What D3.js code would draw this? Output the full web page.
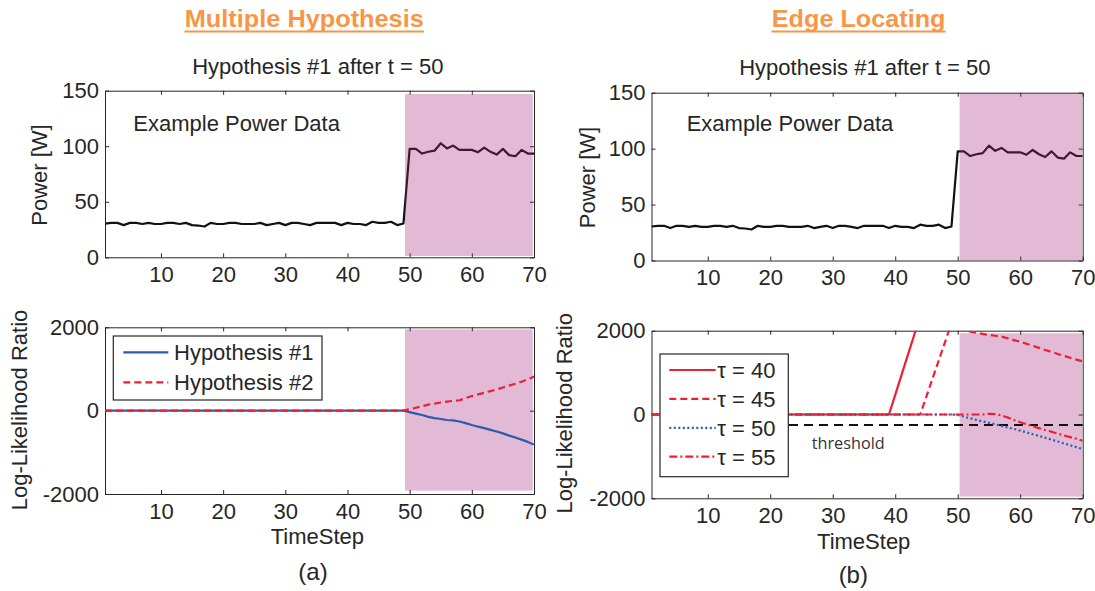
<!DOCTYPE html>
<html><head><meta charset="utf-8">
<script src="https://cdn.jsdelivr.net/npm/d3@7"></script>
<style>
body{margin:0;background:#fff}
svg{display:block}
text{font-family:"Liberation Sans",Arial,Helvetica,sans-serif;fill:#262626}
</style>
</head><body>
<svg id="c" width="1095" height="591"></svg>
<script>
// ---------------- DATA ----------------
const timeSteps = d3.range(1, 71); // t = 1 .. 70
const power = [30.4,31,31,29,31,31,30,31,30,30,31,31,30,31,29,28.6,27.7,31,30,30,
               31,31,30,30,30,31,29,30,31,29,31,31,30,29,31,31,31,31,29,31,
               30,30,29,32,31,31,32,29,30.4,97.6,97.6,93.4,95,96,102.7,98,100.6,96.7,96.7,96.7,
               94.6,98.8,95,92.5,97.6,92,91,96.7,93.4,93.4];
const zeros49 = new Array(49).fill(0);
const hyp1 = zeros49.concat([-35,-70,-105,-150,-180,-200,-225,-235,-260,-300,-345,-385,-420,-460,-500,-545,-600,-645,-695,-750,-815]);
const hyp2 = zeros49.concat([35,70,105,145,170,195,215,235,250,300,350,390,430,470,510,555,600,645,695,755,820]);
const tau40 = new Array(39).fill(0).concat([470,940,1410,1880,2350]).concat(new Array(26).fill(null));
const tau45 = new Array(44).fill(0).concat([435,870,1305,1740,2175,2150,2030,1975,1950,1925,1900,1880,1860,1820,1775,1735,1690,1640,1590,1540,1495,1445,1400,1355,1310,1270]);
const tau50 = zeros49.concat([-10,-50,-90,-130,-165,-200,-235,-275,-310,-345,-385,-425,-470,-510,-555,-600,-645,-690,-735,-780,-825]);
const tau55 = new Array(54).fill(0).concat([15,10,-20,-70,-130,-185,-230,-280,-325,-370,-410,-455,-500,-540,-580,-625]);
const thresholdSteps = [23, 70];
const thresholdValue = -250;
const xTicks = [10,20,30,40,50,60,70];
const powerTicks = [0,50,100,150];
const llrTicks = [-2000,0,2000];
const xDomain = [1, 70];
const powerDomain = [0, 150];
const llrDomain = [-2000, 2000];
// shaded "hypothesis #1" regions [t0, t1, low, high]
const shadeMultiPower = [49.25, 69.8, 1.2, 147];
const shadeMultiLLR   = [49.25, 69.8, -1920, 1950];
const shadeEdgePower  = [50.3, 69.9, 0, 149.5];
const shadeEdgeLLR    = [50.3, 69.9, -1960, 1940];
const legendMulti = ["Hypothesis #1", "Hypothesis #2"];
const legendEdge = ["\u03c4 = 40", "\u03c4 = 45", "\u03c4 = 50", "\u03c4 = 55"];

// ---------------- DRAW ----------------
const svg = d3.select("#c");
const INK = "#262626";
const RED = "#ee1f35";
const BLUE = "#2c5bb0";
const FS = 22;
const fmt = d => String(d);
let clipId = 0;

function panel(box, yDomain, yTicks) {
  const x = d3.scaleLinear().domain(xDomain).range([box.l, box.r]);
  const y = d3.scaleLinear().domain(yDomain).range([box.b, box.t]);
  const g = svg.append("g");
  const styleAxis = a => a.attr("font-size", FS)
      .attr("font-family", '"Liberation Sans",Arial,sans-serif')
      .style("color", INK)
      .call(s => s.selectAll("path,line").attr("stroke", INK).attr("stroke-width", 1));
  g.append("g").attr("transform", `translate(0,${box.b})`)
    .call(d3.axisBottom(x).tickValues(xTicks).tickFormat(fmt).tickSize(-4).tickSizeOuter(0).tickPadding(9))
    .call(styleAxis);
  g.append("g").attr("transform", `translate(0,${box.t})`)
    .call(d3.axisTop(x).tickValues(xTicks).tickSize(-4).tickSizeOuter(0).tickFormat(""))
    .call(styleAxis);
  g.append("g").attr("transform", `translate(${box.l},0)`)
    .call(d3.axisLeft(y).tickValues(yTicks).tickFormat(fmt).tickSize(-4).tickSizeOuter(0).tickPadding(6))
    .call(styleAxis);
  g.append("g").attr("transform", `translate(${box.r},0)`)
    .call(d3.axisRight(y).tickValues(yTicks).tickSize(-4).tickSizeOuter(0).tickFormat(""))
    .call(styleAxis);
  const id = "clip" + (clipId++);
  svg.append("clipPath").attr("id", id).append("rect")
    .attr("x", box.l).attr("y", box.t).attr("width", box.r - box.l).attr("height", box.b - box.t);
  return {x, y, g, clip: `url(#${id})`};
}

function shade(p, s) {
  p.g.append("rect")
    .attr("x", p.x(s[0])).attr("width", p.x(s[1]) - p.x(s[0]))
    .attr("y", p.y(s[3])).attr("height", p.y(s[2]) - p.y(s[3]))
    .attr("fill", "#a8287f").attr("fill-opacity", 0.32);
}

function series(p, vals, color, dash, width) {
  const line = d3.line().defined(d => d != null)
    .x((d, i) => p.x(timeSteps[i])).y(d => p.y(d));
  p.g.append("path").datum(vals)
    .attr("clip-path", p.clip)
    .attr("d", line).attr("fill", "none")
    .attr("stroke", color).attr("stroke-width", width || 2)
    .attr("stroke-dasharray", dash || null)
    .attr("stroke-linejoin", "round");
}

function txt(x, y, s, opts = {}) {
  const t = svg.append("text").attr("x", x).attr("y", y).text(s)
    .attr("font-size", opts.size || FS)
    .attr("text-anchor", opts.anchor || "start");
  if (opts.rotate) t.attr("x", 0).attr("y", 0).attr("transform", `translate(${x},${y}) rotate(-90)`);
  if (opts.weight) t.attr("font-weight", opts.weight);
  if (opts.fill) t.style("fill", opts.fill);
  if (opts.family) t.style("font-family", opts.family);
  if (opts.len) t.attr("textLength", opts.len).attr("lengthAdjust", "spacingAndGlyphs");
  return t;
}

// Headings
const ORANGE = "#f79646";
txt(184.8, 26.7, "Multiple Hypothesis", {size: 24, weight: "bold", fill: ORANGE, len: 239});
svg.append("line").attr("x1", 184.5).attr("x2", 424).attr("y1", 31.5).attr("y2", 31.5)
  .attr("stroke", ORANGE).attr("stroke-width", 2);
txt(771.8, 26.7, "Edge Locating", {size: 24, weight: "bold", fill: ORANGE, len: 173.7});
svg.append("line").attr("x1", 771.5).attr("x2", 945.5).attr("y1", 31.5).attr("y2", 31.5)
  .attr("stroke", ORANGE).attr("stroke-width", 2);

// ----- left column -----
const pA = panel({l: 105, r: 534, t: 90.7, b: 257.3}, powerDomain, powerTicks);
series(pA, power, "#111", null, 2.2);
shade(pA, shadeMultiPower);
txt(317.8, 73.5, "Hypothesis #1 after t = 50", {anchor: "middle"});
txt(133.3, 130.7, "Example Power Data");
txt(47, 175, "Power [W]", {anchor: "middle", rotate: true});

const pB = panel({l: 105, r: 534, t: 327.3, b: 494}, llrDomain, llrTicks);
shade(pB, shadeMultiLLR);
series(pB, hyp1, BLUE, null, 2.2);
series(pB, hyp2, RED, "7,4", 2.2);
txt(27, 410, "Log-Likelihood Ratio", {anchor: "middle", rotate: true});
txt(317.4, 544, "TimeStep", {anchor: "middle"});
txt(313, 580, "(a)", {anchor: "middle", size: 24});

// legend (a)
svg.append("rect").attr("x", 113.3).attr("y", 336).attr("width", 208.7).attr("height", 64)
  .attr("fill", "#fff").attr("stroke", INK).attr("stroke-width", 1.2);
const legAStyles = [[BLUE, null], [RED, "7,4"]];
legendMulti.forEach((name, i) => {
  const yy = 352.3 + i * 30;
  svg.append("line").attr("x1", 123.3).attr("x2", 168.3).attr("y1", yy).attr("y2", yy)
    .attr("stroke", legAStyles[i][0]).attr("stroke-width", 2.2)
    .attr("stroke-dasharray", legAStyles[i][1]);
  txt(174, yy + 8, name);
});

// ----- right column -----
const pC = panel({l: 651.5, r: 1082.7, t: 92.7, b: 260.5}, powerDomain, powerTicks);
series(pC, power, "#111", null, 2.2);
shade(pC, shadeEdgePower);
txt(864.9, 75, "Hypothesis #1 after t = 50", {anchor: "middle"});
txt(686.7, 130.7, "Example Power Data");
txt(594.7, 177.5, "Power [W]", {anchor: "middle", rotate: true});

const pD = panel({l: 651.5, r: 1082.7, t: 330.7, b: 498.3}, llrDomain, llrTicks);
shade(pD, shadeEdgeLLR);
const thrLine = d3.line().x(d => pD.x(d)).y(() => pD.y(thresholdValue));
pD.g.append("path").datum(thresholdSteps).attr("d", thrLine)
  .attr("stroke", "#111").attr("stroke-width", 2).attr("stroke-dasharray", "9,6").attr("fill", "none");
const tauStyles = [[RED, null], [RED, "7,4"], [BLUE, "2,2.5"], [RED, "8,3,2,3"]];
[tau40, tau45, tau50, tau55].forEach((vals, i) => series(pD, vals, tauStyles[i][0], tauStyles[i][1], 2.2));
txt(571.5, 413.3, "Log-Likelihood Ratio", {anchor: "middle", rotate: true});
txt(863.7, 549, "TimeStep", {anchor: "middle"});
txt(853.3, 583, "(b)", {anchor: "middle", size: 24});
txt(811.7, 449, "threshold", {size: 16, family: '"Open Sans",sans-serif', fill: "#333", len: 73});

// legend (b)
svg.append("rect").attr("x", 660).attr("y", 354).attr("width", 128.3).attr("height", 122.7)
  .attr("fill", "#fff").attr("stroke", INK).attr("stroke-width", 1.2);
legendEdge.forEach((name, i) => {
  const yy = 370 + i * 28.9;
  svg.append("line").attr("x1", 669.3).attr("x2", 715.7).attr("y1", yy).attr("y2", yy)
    .attr("stroke", tauStyles[i][0]).attr("stroke-width", 2.2)
    .attr("stroke-dasharray", tauStyles[i][1]);
  txt(717.3, yy + 8, name);
});
</script>
</body></html>
